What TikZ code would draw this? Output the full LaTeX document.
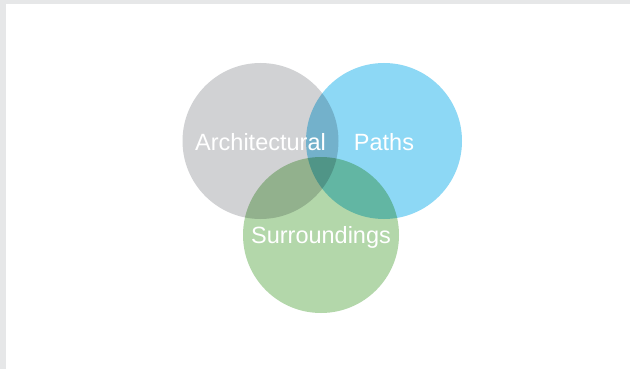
\documentclass[tikz,border=0pt]{standalone}
\usepackage{fontspec}
\setmainfont{Liberation Sans}
\usetikzlibrary{positioning}
\definecolor{framegray}{HTML}{E6E7E8}
\definecolor{ringgray}{HTML}{D1D2D4}
\definecolor{ringblue}{HTML}{8DD8F5}
\definecolor{ringgreen}{HTML}{B3D7AA}

\begin{document}
\begin{tikzpicture}[
    x=1pt, y=-1pt,
    ring/.style ={circle, draw=none, minimum size=156pt, inner sep=0pt},
    tag/.style  ={font=\fontsize{23.5}{25}\selectfont, text=white,
                  inner sep=0pt}
]

% ============================================================
% FOND
% ============================================================
\useasboundingbox (0,0) rectangle (630,369);
\fill[framegray] (0,0) rectangle (630,369);
\fill[white]     (6,4) rectangle (630,369);

% ============================================================
% CERCLES
% ============================================================
\begin{scope}[blend group=multiply]
\node[ring, fill=ringgray]  (arch)  at (260.5,141) {};
\node[ring, fill=ringblue]  (paths) at (384,141)   {};
\node[ring, fill=ringgreen] (surr)  at (321,235)   {};
\end{scope}

% -- textes --
\node[tag, yshift=-1.5pt] (archt)  at (arch)  {Architectural};
\node[tag, yshift=-1.5pt] (pathst) at (paths) {Paths};
\node[tag, yshift=-2pt]   (surrt)  at (surr)  {Surroundings};

\end{tikzpicture}
\end{document}
